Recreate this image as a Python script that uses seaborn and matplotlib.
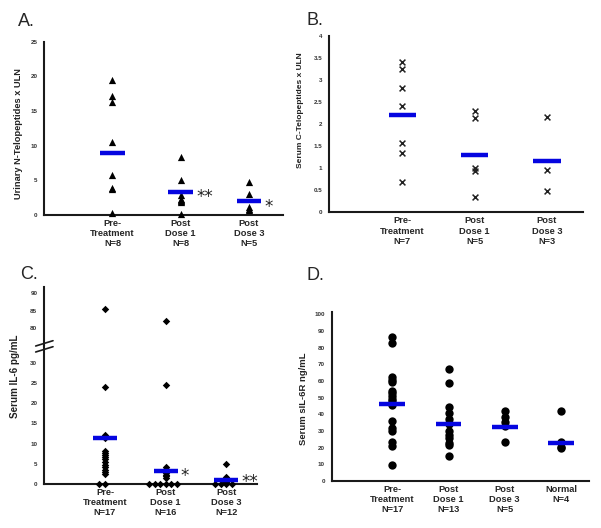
import numpy as np
import pandas as pd
import matplotlib
matplotlib.use("Agg")
import matplotlib.pyplot as plt
import seaborn as sns

sns.set_theme(style="white")
plt.rcParams['font.family'] = ['Liberation Sans', 'DejaVu Sans']

# ---------------- data ----------------
a_labels = ["Pre-\nTreatment\nN=8", "Post\nDose 1\nN=8", "Post\nDose 3\nN=5"]
a_pre = [19.5, 17.2, 16.3, 10.6, 5.8, 3.9, 3.7, 0.3]
a_pd1 = [8.3, 5.0, 2.9, 2.3, 2.1, 2.0, 1.9, 0.1]
a_pd3 = [4.7, 3.0, 1.1, 0.9, 0.7]
a_center = [9.0, 3.35, 2.0]
a_stars = ["", "**", "*"]

b_labels = ["Pre-\nTreatment\nN=7", "Post\nDose 1\nN=5", "Post\nDose 3\nN=3"]
b_pre = [3.40, 3.26, 2.81, 2.42, 1.58, 1.34, 0.69]
b_pd1 = [2.30, 2.13, 1.01, 0.94, 0.35]
b_pd3 = [2.16, 0.95, 0.48]
b_center = [2.20, 1.31, 1.16]

c_labels = ["Pre-\nTreatment\nN=17", "Post\nDose 1\nN=16", "Post\nDose 3\nN=12"]
c_pre = [85.6, 24.2, 12.2, 11.3, 8.2, 7.7, 7.2, 6.7, 6.1, 5.4, 4.7, 4.1, 3.4, 2.8, 2.5, 0, 0]
c_pd1 = [82.0, 24.6, 4.2, 3.6, 3.2, 3.0, 2.6, 2.2, 1.9, 1.5, 0, 0, 0, 0, 0, 0]
c_pd3 = [5.0, 1.7, 1.3, 1.0, 0.8, 0.6, 0.4, 0.3, 0, 0, 0, 0]
c_center = [11.4, 3.2, 0.9]
c_stars = ["", "*", "**"]

d_labels = ["Pre-\nTreatment\nN=17", "Post\nDose 1\nN=13", "Post\nDose 3\nN=5", "Normal\nN=4"]
d_pre = [86.6, 83.0, 62.2, 60.6, 59.6, 54.0, 52.6, 51.0, 49.4, 47.8, 45.8, 36.2, 32.0, 30.2, 23.4, 21.2, 9.8]
d_pd1 = [67.0, 58.6, 44.4, 40.8, 37.2, 35.0, 34.0, 30.2, 27.6, 26.0, 23.0, 21.6, 15.0]
d_pd3 = [42.2, 38.2, 35.6, 33.0, 23.4]
d_nor = [42.2, 23.6, 20.5, 19.8]
d_center = [46.0, 34.2, 32.6, 23.0]

BLUE = "#0505e0"
SPINE = "#1a1a1a"


def make_df(labels, groups):
    rows = []
    for lab, vals in zip(labels, groups):
        for v in vals:
            rows.append((lab, v))
    return pd.DataFrame(rows, columns=["group", "value"])


fig = plt.figure(figsize=(6.01, 5.28), dpi=100)


def px_axes(left, right, top, bottom):
    W, H = 601.0, 528.0
    return fig.add_axes([left / W, 1 - bottom / H, (right - left) / W, (bottom - top) / H])


def style_axes(ax, xlabels, xlim, show_x=True):
    ax.set_xlim(*xlim)
    for s in ["top", "right"]:
        ax.spines[s].set_visible(False)
    for s in ["left", "bottom"]:
        ax.spines[s].set_linewidth(1.5)
        ax.spines[s].set_color(SPINE)
    ax.tick_params(axis="y", length=0, pad=5, labelsize=4.5, colors="#333333")
    ax.tick_params(axis="x", length=0, pad=3)
    ax.set_xlabel("")
    ax.set_ylabel("")
    ax.grid(False)
    if show_x:
        ax.set_xticks(np.arange(len(xlabels)))
        ax.set_xticklabels(xlabels, fontsize=6.7, fontweight="bold", linespacing=1.15)
    for t in ax.get_yticklabels():
        t.set_fontweight("bold")


def center_lines(ax, centers, halfw):
    idx = np.arange(len(centers))
    ax.hlines(centers, idx - halfw, idx + halfw, colors=BLUE, linewidth=3.2, zorder=5)


def stars(ax, centers, texts, halfw, dys):
    for i, (c, t, dy) in enumerate(zip(centers, texts, dys)):
        if t:
            ax.annotate(t, xy=(i + halfw, c), xytext=(2.2, dy), textcoords="offset points",
                        ha="left", va="baseline", fontsize=12, color="#222222",
                        family="DejaVu Sans")


# ---------------- Panel A ----------------
axA = px_axes(44.3, 283, 41.7, 215)
dfA = make_df(a_labels, [a_pre, a_pd1, a_pd3])
sns.stripplot(data=dfA, x="group", y="value", order=a_labels, jitter=False, marker="^",
              size=5.2, color="black", linewidth=0, ax=axA, zorder=3)
for coll in axA.collections:
    coll.set_clip_on(False)
center_lines(axA, a_center, 0.18)
axA.set_ylim(0, 25)
axA.set_yticks(np.arange(0, 26, 5))
style_axes(axA, a_labels, (-1.0, 2.5))
stars(axA, a_center, a_stars, 0.18, [0, -7.2, -7.8])
fig.text(18.5 / 601, 1 - 134 / 528, "Urinary N-Telopeptides x ULN", rotation=90,
         ha="center", va="center", fontsize=6.7, fontweight="bold", color="#222222")
fig.text(18 / 601, 1 - 26 / 528, "A.", fontsize=13, ha="left", va="baseline")

# ---------------- Panel B ----------------
axB = px_axes(329.3, 583, 36, 212.3)
dfB = make_df(b_labels, [b_pre, b_pd1, b_pd3])
sns.stripplot(data=dfB, x="group", y="value", order=b_labels, jitter=False, marker="x",
              size=4.2, color="#222222", linewidth=1.1, ax=axB, zorder=3)
center_lines(axB, b_center, 0.19)
axB.set_ylim(0, 4)
axB.set_yticks(np.arange(0, 4.01, 0.5))
axB.set_yticklabels(["0", "0.5", "1", "1.5", "2", "2.5", "3", "3.5", "4"])
style_axes(axB, b_labels, (-1.01, 2.5))
fig.text(300 / 601, 1 - 110 / 528, "Serum C-Telopeptides x ULN", rotation=90,
         ha="center", va="center", fontsize=6.0, fontweight="bold", color="#222222")
fig.text(306 / 601, 1 - 25 / 528, "B.", fontsize=13, ha="left", va="baseline")

# ---------------- Panel C (broken axis) ----------------
axCt = px_axes(44.3, 256.7, 286.7, 346)
axCb = px_axes(44.3, 256.7, 346, 483.7)
dfC = make_df(c_labels, [c_pre, c_pd1, c_pd3])
nz = dfC[dfC["value"] > 0]
zz = dfC[dfC["value"] == 0]
for ax in (axCt, axCb):
    sns.stripplot(data=nz, x="group", y="value", order=c_labels, jitter=False, marker="D",
                  size=3.8, color="black", linewidth=0, ax=ax, zorder=3)
n_before = len(axCb.collections)
sns.swarmplot(data=zz, x="group", y="value", order=c_labels, marker="D",
              size=3.8, color="black", linewidth=0, ax=axCb, zorder=3)
for coll in axCb.collections[n_before:]:
    coll.set_clip_on(False)
center_lines(axCb, c_center, 0.2)
axCb.set_ylim(0, 34.3)
axCb.set_yticks(np.arange(0, 31, 5))
axCt.set_ylim(74.8, 91.9)
axCt.set_yticks([80, 85, 90])
style_axes(axCb, c_labels, (-1.0, 2.5))
style_axes(axCt, c_labels, (-1.0, 2.5), show_x=False)
axCt.set_xticks([])
axCt.spines["bottom"].set_visible(False)
axCb.spines["top"].set_visible(False)
stars(axCb, c_center, c_stars, 0.2, [0, -7.2, -5.0])
# break marks
for dy in (0, 6):
    fig.add_artist(plt.Line2D([35.7 / 601, 53 / 601],
                              [1 - (346 + dy) / 528, 1 - (340.7 + dy) / 528],
                              transform=fig.transFigure, color=SPINE, linewidth=1.2))
fig.text(15 / 601, 1 - 376 / 528, "Serum IL-6 pg/mL", rotation=90,
         ha="center", va="center", fontsize=7.1, fontweight="bold", color="#222222")
fig.text(20 / 601, 1 - 279 / 528, "C.", fontsize=13, ha="left", va="baseline")

# ---------------- Panel D ----------------
axD = px_axes(331.7, 589, 311.7, 481)
dfD = make_df(d_labels, [d_pre, d_pd1, d_pd3, d_nor])
sns.stripplot(data=dfD, x="group", y="value", order=d_labels, jitter=False, marker="o",
              size=6.0, color="black", linewidth=0, ax=axD, zorder=3)
center_lines(axD, d_center, 0.23)
axD.set_ylim(0, 101.6)
axD.set_yticks(np.arange(0, 101, 10))
style_axes(axD, d_labels, (-1.08, 3.5))
fig.text(303 / 601, 1 - 399 / 528, "Serum sIL-6R ng/mL", rotation=90,
         ha="center", va="center", fontsize=6.8, fontweight="bold", color="#222222")
fig.text(306 / 601, 1 - 280 / 528, "D.", fontsize=13, ha="left", va="baseline")

fig.savefig("out.png", dpi=100)
